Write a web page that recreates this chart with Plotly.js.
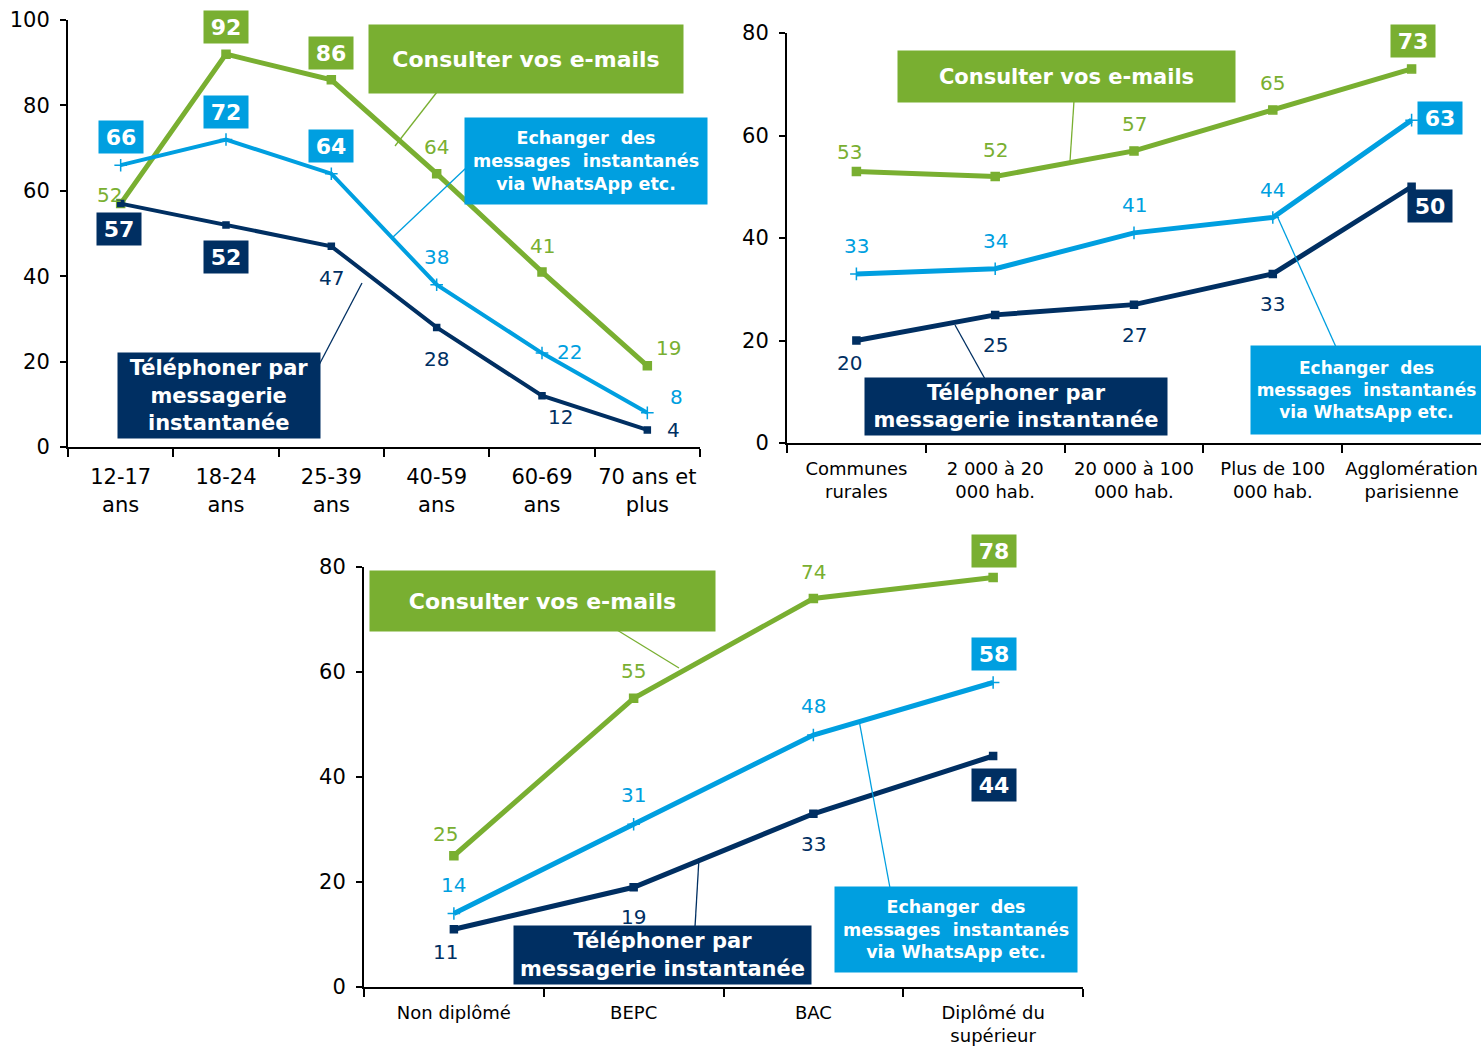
<!DOCTYPE html>
<html><head><meta charset="utf-8">
<script src="https://cdn.plot.ly/plotly-3.0.1.min.js"></script>
<style>html,body{margin:0;padding:0;background:#fff}#chart{width:1481px;height:1046px}</style>
</head><body><div id="chart"></div>
<script>
// ---------- DATA ----------
const ageCats = ['12-17<br>ans','18-24<br>ans','25-39<br>ans','40-59<br>ans','60-69<br>ans','70 ans et<br>plus'];
const ageEmail = [57, 92, 86, 64, 41, 19];
const ageEmailLabels = ['52','92','86','64','41','19'];
const ageWhatsapp = [66, 72, 64, 38, 22, 8];
const ageCall = [57, 52, 47, 28, 12, 4];
const ageTicks = [0, 20, 40, 60, 80, 100];

const townCats = ['Communes<br>rurales','2 000 à 20<br>000 hab.','20 000 à 100<br>000 hab.','Plus de 100<br>000 hab.','Agglomération<br>parisienne'];
const townEmail = [53, 52, 57, 65, 73];
const townWhatsapp = [33, 34, 41, 44, 63];
const townCall = [20, 25, 27, 33, 50];
const townTicks = [0, 20, 40, 60, 80];

const eduCats = ['Non diplômé','BEPC','BAC','Diplômé du<br>supérieur'];
const eduEmail = [25, 55, 74, 78];
const eduWhatsapp = [14, 31, 48, 58];
const eduCall = [11, 19, 33, 44];
const eduTicks = [0, 20, 40, 60, 80];

const seriesNames = ['Consulter vos e-mails','Echanger  des<br>messages  instantanés<br>via WhatsApp etc.','Téléphoner par<br>messagerie<br>instantanée'];

// ---------- STYLE ----------
const GREEN = '#79AF31', BLUE = '#009FE0', NAVY = '#002F62';
const FONT = 'DejaVu Sans, Verdana, sans-serif';
const W = 1481, H = 1046;
const px = x => x / W, py = y => 1 - y / H;

// label placement: [xshift, yshift, boxed]
const ageEmailPos = [[-11,9,0],[0,27,1],[0,27,1],[0,27,0],[0,26,0],[21,18,0]];
const ageWaPos    = [[0,28,1],[0,28,1],[0,28,1],[0,28,0],[27,1,0],[29,16,0]];
const ageCallPos  = [[-2,-25,1],[0,-32,1],[0,-32,0],[0,-32,0],[18,-21,0],[26,0,0]];
const townEmailPos = [[-7,19,0],[0,26,0],[0,27,0],[0,27,0],[1,28,1]];
const townWaPos    = [[0,28,0],[0,28,0],[0,28,0],[0,27,0],[28,2,1]];
const townCallPos  = [[-7,-23,0],[0,-30,0],[0,-30,0],[0,-30,0],[18,-19,1]];
const eduEmailPos = [[-8,22,0],[0,27,0],[0,27,0],[1,27,1]];
const eduWaPos    = [[0,29,0],[0,29,0],[0,29,0],[1,29,1]];
const eduCallPos  = [[-8,-23,0],[0,-30,0],[0,-30,0],[1,-29,1]];

function line(cats, vals, color, width, symbol, msize, xa, ya){
  return {type:'scatter', mode:'lines+markers', x:cats, y:vals, xaxis:xa, yaxis:ya,
    line:{color:color, width:width}, marker:{symbol:symbol, size:msize, color:color, line:{color:color, width:1.5}},
    hoverinfo:'skip', showlegend:false, cliponaxis:false};
}

const data = [
  line(ageCats, ageEmail, GREEN, 5, 'square', 8, 'x', 'y'),
  line(ageCats, ageWhatsapp, BLUE, 4, 'cross-thin', 9, 'x', 'y'),
  line(ageCats, ageCall, NAVY, 4, 'square', 6, 'x', 'y'),
  line(townCats, townEmail, GREEN, 5, 'square', 8, 'x2', 'y2'),
  line(townCats, townWhatsapp, BLUE, 5, 'cross-thin', 9, 'x2', 'y2'),
  line(townCats, townCall, NAVY, 5, 'square', 7, 'x2', 'y2'),
  line(eduCats, eduEmail, GREEN, 5, 'square', 8, 'x3', 'y3'),
  line(eduCats, eduWhatsapp, BLUE, 5, 'cross-thin', 9, 'x3', 'y3'),
  line(eduCats, eduCall, NAVY, 5, 'square', 7, 'x3', 'y3')
];

const annotations = [];
function labels(cats, vals, texts, pos, color, xa, ya){
  cats.forEach((c, i) => {
    const p = pos[i];
    const boxed = p[2] === 1;
    const a = {xref:xa, yref:ya, x:c, y:vals[i], xshift:p[0], yshift:p[1], showarrow:false,
      text: boxed ? '<b>' + texts[i] + '</b>' : String(texts[i]),
      font:{family:FONT, size: boxed ? 22 : 20, color: boxed ? '#ffffff' : color}};
    if (boxed){ a.bgcolor = color; a.width = 42; a.height = 30; }
    annotations.push(a);
  });
}
labels(ageCats, ageEmail, ageEmailLabels, ageEmailPos, GREEN, 'x', 'y');
labels(ageCats, ageWhatsapp, ageWhatsapp, ageWaPos, BLUE, 'x', 'y');
labels(ageCats, ageCall, ageCall, ageCallPos, NAVY, 'x', 'y');
labels(townCats, townEmail, townEmail, townEmailPos, GREEN, 'x2', 'y2');
labels(townCats, townWhatsapp, townWhatsapp, townWaPos, BLUE, 'x2', 'y2');
labels(townCats, townCall, townCall, townCallPos, NAVY, 'x2', 'y2');
labels(eduCats, eduEmail, eduEmail, eduEmailPos, GREEN, 'x3', 'y3');
labels(eduCats, eduWhatsapp, eduWhatsapp, eduWaPos, BLUE, 'x3', 'y3');
labels(eduCats, eduCall, eduCall, eduCallPos, NAVY, 'x3', 'y3');

// callout boxes: [x0,y0,x1,y1] in pixels
function callout(text, color, r, size){
  annotations.push({xref:'paper', yref:'paper', x:px((r[0]+r[2])/2), y:py((r[1]+r[3])/2),
    xanchor:'center', yanchor:'middle', showarrow:false, width:r[2]-r[0], height:r[3]-r[1],
    bgcolor:color, text:'<b>' + text + '</b>', font:{family:FONT, size:size, color:'#ffffff'}});
}
const shapes = [];
function leader(color, a, b){
  shapes.push({type:'line', xref:'paper', yref:'paper', x0:px(a[0]), y0:py(a[1]), x1:px(b[0]), y1:py(b[1]),
    line:{color:color, width:1.3}});
}
// plot 1
callout(seriesNames[0], GREEN, [370,26,682,92], 22);
callout(seriesNames[1], BLUE, [466,119,706,203], 17.5);
callout(seriesNames[2], NAVY, [119,354,319,437], 21);
leader(GREEN, [437,92], [395,146]);
leader(BLUE, [466,168], [392,238]);
leader(NAVY, [319,365], [362,283]);
// plot 2
const twoLine = seriesNames[2].replace('par<br>messagerie<br>', 'par<br>messagerie ');
callout(seriesNames[0], GREEN, [899,52,1234,101], 21);
callout(twoLine, NAVY, [866,379,1166,434], 21);
callout(seriesNames[1], BLUE, [1252,347,1481,433], 17);
leader(GREEN, [1074,101], [1070,161]);
leader(NAVY, [955,325], [985,379]);
leader(BLUE, [1278,218], [1336,347]);
// plot 3
callout(seriesNames[0], GREEN, [371,572,714,630], 22);
callout(twoLine, NAVY, [515,927,810,983], 21);
callout(seriesNames[1], BLUE, [836,888,1076,971], 17.5);
leader(GREEN, [617,630], [679,668]);
leader(NAVY, [699,858], [695,927]);
leader(BLUE, [859,720], [890,888]);

function xaxis(domain, n, size, standoff, anchor){
  return {domain:domain, anchor:anchor, type:'category', range:[-0.5, n-0.5], showline:true, linecolor:'#000', linewidth:2,
    ticks:'outside', tickson:'boundaries', ticklen:8, tickwidth:2, tickcolor:'#000', showgrid:false, zeroline:false,
    tickangle:0, ticklabelstandoff:standoff, tickfont:{family:FONT, size:size, color:'#000'}, fixedrange:true};
}
function yaxis(domain, max, ticks, anchor){
  return {domain:domain, anchor:anchor, range:[0, max], tickvals:ticks, showline:true, linecolor:'#000', linewidth:2,
    ticks:'outside', ticklen:6, tickwidth:2, tickcolor:'#000', showgrid:false, zeroline:false,
    ticklabelstandoff:6, tickfont:{family:FONT, size:21, color:'#000'}, fixedrange:true};
}

const layout = {
  width:W, height:H, margin:{l:0, r:0, t:0, b:0}, paper_bgcolor:'#fff', plot_bgcolor:'rgba(0,0,0,0)',
  showlegend:false, font:{family:FONT},
  xaxis: xaxis([px(68), px(700)], ageCats.length, 21, 10, 'y'),
  yaxis: yaxis([py(447), py(20)], 100, ageTicks, 'x'),
  xaxis2: xaxis([px(787), 1], townCats.length, 18, 8, 'y2'),
  yaxis2: yaxis([py(443), py(33)], 80, townTicks, 'x2'),
  xaxis3: xaxis([px(364), px(1083)], eduCats.length, 18, 8, 'y3'),
  yaxis3: yaxis([py(987), py(567)], 80, eduTicks, 'x3'),
  annotations: annotations, shapes: shapes
};
Plotly.newPlot('chart', data, layout, {staticPlot:true, displayModeBar:false});
</script></body></html>
